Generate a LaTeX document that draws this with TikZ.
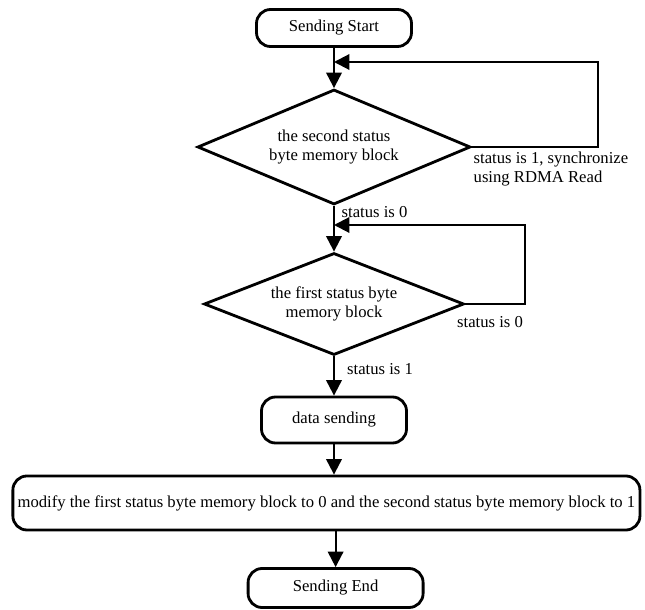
\documentclass[tikz,border=0pt]{standalone}
\usepackage{fontspec}
\setmainfont{Liberation Serif}
\usetikzlibrary{shapes,arrows.meta}

\begin{document}
\begin{tikzpicture}[
    font=\fontsize{11.85}{13.8}\selectfont,
    box/.style={draw, line width=2pt, rounded corners=0.35cm, align=center},
    test/.style={draw, diamond, line width=2pt, inner sep=0pt, align=center},
    arr/.style={line width=1.5pt, -{Triangle[length=11pt,width=11pt]}}]

\useasboundingbox (0,0) rectangle (16.125,-15.25);

% Start
\node [box,
    minimum width=3.875cm,
    minimum height=0.925cm] (start) at (8.35,-0.7) {Sending Start};

% Second status byte check
\node [test,
    aspect=2.37,
    minimum width=6.825cm,
    minimum height=2.875cm] (second) at (8.35,-3.675) {the second status\\byte memory block};

% First status byte check
\node [test,
    aspect=2.55,
    minimum width=6.5cm,
    minimum height=2.55cm] (first) at (8.35,-7.6) {the first status byte\\memory block};

% Data sending
\node [box,
    minimum width=3.625cm,
    minimum height=1.15cm] (send) at (8.35,-10.5) {data sending};

% Modify both blocks
\node [box,
    minimum width=15.675cm,
    minimum height=1.35cm] (modify) at (8.16,-12.575) {modify the first status byte memory block to 0 and the second status byte memory block to 1};

% End
\node [box,
    minimum width=4.375cm,
    minimum height=0.975cm] (end) at (8.39,-14.7) {Sending End};

% Loop joints
\coordinate (j1) at (8.35,-1.55);
\coordinate (r1) at (14.95,-1.55);
\coordinate (j2) at (8.35,-5.625);
\coordinate (r2) at (13.125,-5.625);

% Main flow
\draw [arr] (start) -- (second);
\draw [arr] (second) -- (first);
\draw [arr] (first) -- (send);
\draw [arr] (send) -- (modify.north -| send);
\draw [arr] (modify.south -| end) -- (end);

% Loops
\draw [arr] (second.east) -| (r1) -- (j1);
\draw [arr] (first.east) -| (r2) -- (j2);

% Labels
\node [anchor=north west, align=left, inner sep=1pt] (lbl1) at (11.8,-3.75) {status is 1, synchronize\\using RDMA Read};
\node [anchor=west, inner sep=1pt] (lbl2) at (8.5,-5.3) {status is 0};
\node [inner sep=1pt] (lbl3) at (12.25,-8.05) {status is 0};
\node [inner sep=1pt] (lbl4) at (9.5,-9.225) {status is 1};

\end{tikzpicture}
\end{document}
